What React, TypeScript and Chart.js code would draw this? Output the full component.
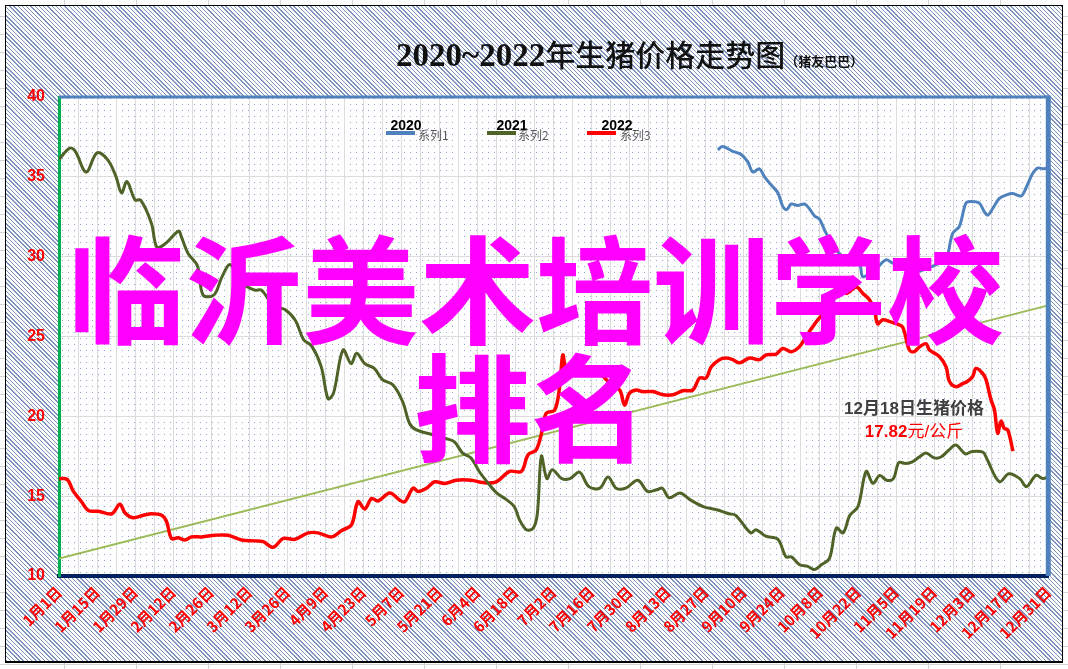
import React, { useEffect, useRef } from 'react';
import { Chart, registerables } from 'chart.js';

Chart.register(...registerables);

// ---------- data ----------
const xTickLabels = [
  '1月1日', '1月15日', '1月29日', '2月12日', '2月26日', '3月12日', '3月26日',
  '4月9日', '4月23日', '5月7日', '5月21日', '6月4日', '6月18日', '7月2日',
  '7月16日', '7月30日', '8月13日', '8月27日', '9月10日', '9月24日', '10月8日',
  '10月22日', '11月5日', '11月19日', '12月3日', '12月17日', '12月31日',
];
const labelStepDays = 14;
const gridStepDays = 7;
const yearLastDay = 364;
const yTicks = [10, 15, 20, 25, 30, 35, 40];

const seriesNames = ['系列1', '系列2', '系列3'];
const seriesYears = ['2020', '2021', '2022'];

// [day of year, price]
const price2020: [number, number][] = [
  [242.4, 36.7], [244.2, 36.9], [247.9, 36.6], [251, 36.4], [253.4, 35.95], [255.3, 35.3],
  [257.7, 35.5], [259.6, 35.0], [262, 34.5], [264.5, 34.0], [266.3, 33.15], [267.8, 32.95],
  [269.4, 33.3], [271.8, 33.2], [274.3, 33.3], [276.1, 33.0], [278, 32.55], [279.8, 32.35],
  [281.6, 31.7], [283.5, 31.05], [286, 30.4], [289, 29.9], [292, 29.5], [294.5, 29.6],
  [295.7, 28.75], [298.2, 28.95], [301, 29.3], [304.3, 29.8], [306.8, 29.6], [309.2, 29.5],
  [312, 29.3], [316, 29.1], [320, 29.3], [323.9, 29.6], [326.4, 29.8], [328.8, 31.45],
  [331.3, 31.9], [333.7, 33.35], [335.6, 33.45], [338.6, 33.35], [340.5, 32.8], [341.7, 32.6],
  [343.5, 33.0], [346, 33.65], [348.4, 33.85], [350.9, 33.95], [354, 33.8], [355.8, 34.3],
  [358.2, 35.2], [360.1, 35.55], [362.5, 35.5], [364, 35.6],
];

const price2021: [number, number][] = [
  [0, 36.1], [4, 36.8], [6, 36.6], [10, 35.3], [14, 36.5], [18, 36.05], [21, 35.0], [23, 34.0],
  [25, 34.7], [28, 33.55], [30, 33.55], [34, 32.1], [36, 30.6], [39, 30.8], [44, 31.6],
  [45, 31.25], [47.5, 30.2], [51, 29.4], [53, 27.6], [57, 27.6], [60, 28.75], [63, 29.5],
  [67, 28.4], [72, 27.9], [74.5, 27.9], [79, 26.9], [83, 26.7], [87, 26.0], [90, 24.8],
  [93, 24.4], [96.5, 23.1], [99, 21.1], [101, 21.45], [104.5, 24.15], [107.5, 23.3],
  [109.5, 23.95], [112.5, 23.3], [116, 23.0], [119, 22.3], [123, 21.95], [126.5, 20.9],
  [129, 19.55], [131.5, 19.15], [137.5, 18.85], [142.5, 18.6], [145.5, 18.4], [148.5, 17.7],
  [151.5, 17.4], [155, 16.45], [158, 15.8], [161, 15.2], [164.5, 14.8], [167.5, 14.35],
  [169.5, 13.5], [172, 12.9], [174.5, 13.0], [176, 13.9], [177.5, 17.5], [179.5, 16.1],
  [181.5, 16.65], [185, 16.1], [188, 16.1], [191.5, 16.5], [195, 15.6], [199, 15.5],
  [202, 16.2], [205, 15.5], [208.5, 15.5], [213, 16.0], [216.5, 15.3], [220, 15.4],
  [222, 15.5], [224.5, 14.9], [228.5, 15.2], [232, 14.8], [237, 14.35], [242, 14.15],
  [246.5, 13.9], [249, 13.8], [254.5, 12.7], [256.5, 12.9], [260, 12.5], [264.5, 12.3],
  [267.5, 11.2], [269.5, 11.2], [272.5, 10.7], [275.5, 10.6], [278, 10.4], [280.5, 10.7],
  [283.5, 11.1], [286, 13.0], [288.5, 12.7], [291, 13.8], [294, 14.35], [297, 16.55],
  [299.5, 15.8], [302, 16.3], [304.5, 16.0], [307, 16.1], [309, 17.1], [311.5, 17.05],
  [314, 17.15], [316.5, 17.45], [319, 17.7], [322, 17.4], [324.5, 17.45], [327.5, 17.9],
  [330, 18.2], [333.5, 17.65], [336, 17.8], [340, 17.75], [341.5, 17.3], [346, 15.9],
  [349.5, 16.4], [353.5, 16.1], [356, 15.6], [359.5, 16.3], [362, 16.1], [364, 16.2],
];

const price2022: [number, number][] = [
  [0, 16.1], [3, 16.05], [5.3, 15.3], [8.3, 14.65], [10.8, 14.1], [14.5, 14.05], [19.4, 13.9],
  [22.4, 14.5], [24.3, 13.95], [27.3, 13.65], [31, 13.8], [34.1, 13.9], [37.8, 13.8],
  [39.6, 13.4], [41.4, 12.35], [43.9, 12.4], [46.3, 12.25], [48.8, 12.45], [52.5, 12.45],
  [57.4, 12.55], [62.2, 12.55], [67.2, 12.25], [72.1, 12.2], [75.1, 12.15], [78.8, 11.8],
  [82.5, 12.35], [86.8, 12.3], [91.7, 12.7], [95.3, 12.7], [100.3, 12.45], [104, 12.85],
  [107.6, 13.2], [110, 14.65], [112.5, 14.2], [115, 14.85], [117.4, 14.7], [121.7, 15.2],
  [125.4, 14.75], [127.2, 14.65], [130.3, 15.5], [132.1, 15.3], [135.2, 15.5], [138.2, 15.9],
  [141.9, 15.8], [146.2, 16.0], [151.7, 16.0], [156, 15.85], [160.9, 15.9], [165.8, 16.55],
  [170.1, 16.55], [172.6, 17.6], [175.6, 17.9], [178.1, 19.35], [179.3, 20.2], [182.4, 20.4],
  [184.2, 21.85], [185.4, 23.85], [186.7, 22.7], [188.5, 23.3], [192, 23.0], [195, 22.8],
  [198.9, 22.7], [202, 22.2], [206.3, 21.65], [208.1, 20.7], [209.9, 21.45], [212.4, 21.65],
  [214.8, 21.55], [218.5, 21.55], [222.2, 21.35], [225.9, 21.35], [229.5, 21.6], [233.2, 21.65],
  [235.7, 22.4], [238.1, 22.4], [240, 23.1], [243, 23.55], [245.5, 23.65], [247.9, 23.55],
  [250.4, 23.35], [254.1, 23.65], [257.7, 23.55], [260.2, 23.85], [263.9, 23.9], [266.3, 24.25],
  [269.4, 24.05], [272.4, 24.35], [274.9, 25.0], [277.3, 25.6], [280.9, 26.35], [283.4, 26.45],
  [286, 28.1], [289.7, 27.7], [293.3, 28.1], [295.8, 27.7], [298.2, 27.3], [300, 26.7],
  [301.2, 25.8], [303.1, 26.05], [305.5, 25.95], [308, 25.8], [310.4, 25.6], [312.9, 24.15],
  [314.7, 24.05], [316.6, 24.35], [319, 24.55], [320.3, 24.15], [323.9, 23.75], [326.4, 23.1],
  [327.6, 22.2], [330.1, 21.85], [332.5, 22.05], [334.3, 22.2], [336.2, 22.5], [337.4, 23.0],
  [339.8, 22.7], [341.1, 22.3], [342.9, 21.05], [344.2, 20.4], [345.4, 18.95], [346.6, 19.7],
  [347.8, 19.25], [349.1, 19.15], [351, 17.82],
];

const trendLine: [number, number][] = [[0, 11.1], [364, 26.95]];

const titleMain = '2020~2022';
const titleRest = '年生猪价格走势图';
const titleNote = '（猪友巴巴）';
const noteLine1 = '12月18日生猪价格';
const notePrice = '17.82';
const noteUnit = '元/公斤';
const watermark1 = '临沂美术培训学校';
const watermark2 = '排名';

const toPts = (arr: [number, number][]) => arr.map(([x, y]) => ({ x, y }));

const colors = ['#4F81BD', '#4F6228', '#FF0000'];

export default function App() {
  const canvasRef = useRef<HTMLCanvasElement>(null);

  useEffect(() => {
    const canvas = canvasRef.current!;
    const ctx = canvas.getContext('2d')!;

    const tile = document.createElement('canvas');
    tile.width = 6;
    tile.height = 6;
    const tctx = tile.getContext('2d')!;
    tctx.fillStyle = 'rgba(70,105,175,0.6)';
    tctx.fillRect(2, 2, 1, 1);
    const dots = ctx.createPattern(tile, 'repeat');

    const plotBg = {
      id: 'plotBg',
      beforeDraw(chart: any) {
        const { ctx: c, chartArea: a } = chart;
        c.save();
        c.fillStyle = '#ffffff';
        c.fillRect(a.left, a.top, a.width, a.height);
        if (dots) {
          c.fillStyle = dots;
          c.fillRect(a.left, a.top, a.width, a.height);
        }
        c.restore();
      },
    };

    const frame = {
      id: 'frame',
      afterDraw(chart: any) {
        const { ctx: c, chartArea: a } = chart;
        c.save();
        c.strokeStyle = '#4F81BD';
        c.lineWidth = 3;
        c.beginPath();
        c.moveTo(a.left, a.top);
        c.lineTo(a.right, a.top);
        c.stroke();
        c.lineWidth = 5;
        c.beginPath();
        c.moveTo(a.right, a.top - 1.5);
        c.lineTo(a.right, a.bottom);
        c.stroke();
        c.restore();
      },
    };

    const common = { pointRadius: 0, pointHoverRadius: 0, tension: 0.35, fill: false };

    const chart = new Chart(ctx, {
      type: 'line',
      data: {
        datasets: [
          { ...common, label: seriesNames[0], data: toPts(price2020), borderColor: colors[0], borderWidth: 3 },
          { ...common, label: seriesNames[1], data: toPts(price2021), borderColor: colors[1], borderWidth: 3 },
          { ...common, label: seriesNames[2], data: toPts(price2022), borderColor: colors[2], borderWidth: 3.5 },
          { ...common, label: 'trend', data: toPts(trendLine), borderColor: '#9BBB59', borderWidth: 2, tension: 0 },
        ],
      },
      options: {
        animation: false,
        responsive: false,
        maintainAspectRatio: false,
        events: [],
        layout: { padding: { left: 0, top: 97, right: 19, bottom: 0 } },
        plugins: { legend: { display: false }, tooltip: { enabled: false }, title: { display: false } },
        scales: {
          x: {
            type: 'linear',
            min: 0,
            max: yearLastDay,
            afterFit(s: any) { s.height = 93; },
            afterBuildTicks(s: any) {
              const t = [];
              for (let d = 0; d <= yearLastDay; d += gridStepDays) t.push({ value: d });
              s.ticks = t;
            },
            ticks: {
              autoSkip: false,
              minRotation: 45,
              maxRotation: 45,
              padding: 7,
              color: '#FF0000',
              font: { family: '"Noto Sans CJK SC", sans-serif', size: 15, weight: 'bold' },
              callback: (v: any) => (v % labelStepDays === 0 ? xTickLabels[v / labelStepDays] : ''),
            },
            grid: { color: '#DCDCDC', lineWidth: 1, drawTicks: false },
            border: { color: '#002060', width: 4 },
          },
          y: {
            min: yTicks[0],
            max: yTicks[yTicks.length - 1],
            afterFit(s: any) { s.width = 59; },
            ticks: {
              stepSize: 5,
              padding: 14,
              color: '#FF0000',
              font: { family: '"Liberation Sans", Arial, sans-serif', size: 16, weight: 'bold' },
            },
            grid: { color: '#DCDCDC', lineWidth: 1, drawTicks: false },
            border: { color: '#00B050', width: 3 },
          },
        },
      },
      plugins: [plotBg, frame],
    } as any);

    return () => chart.destroy();
  }, []);

  const legendItems = [
    { sx: 386, yearCx: 406, nx: 418 },
    { sx: 487, yearCx: 512, nx: 518 },
    { sx: 587, yearCx: 617, nx: 620 },
  ];

  return (
    <div
      style={{
        position: 'fixed', left: 0, top: 0, width: 1068, height: 669, overflow: 'hidden',
        background: '#fff',
        backgroundImage:
          'linear-gradient(to right, #d4d4d4 1px, transparent 1px), linear-gradient(to bottom, #d4d4d4 1px, transparent 1px)',
        backgroundSize: '72px 100%, 100% 18px',
        backgroundPosition: '64px 0, 0 16px',
      }}
    >
      <div
        style={{
          position: 'absolute', left: 5, top: 5, width: 1056, height: 655,
          border: '1px solid #000',
          borderBottomWidth: 2,
          background: 'repeating-linear-gradient(45deg, #7d92bf 0px, #7d92bf 1px, #ffffff 1px, #ffffff 3px)',
        }}
      />
      <canvas
        ref={canvasRef}
        width={1068}
        height={669}
        style={{ position: 'absolute', left: 0, top: 0, width: 1068, height: 669 }}
      />
      {/* title */}
      <div style={{ position: 'absolute', left: 396, top: 35, whiteSpace: 'nowrap', lineHeight: '36px', color: '#111' }}>
        <span style={{ fontFamily: '"Liberation Serif", serif', fontWeight: 'bold', fontSize: 33 }}>{titleMain}</span>
        <span style={{ fontFamily: '"Noto Sans CJK SC", sans-serif', fontWeight: 500, fontSize: 30 }}>{titleRest}</span>
        <span style={{ fontFamily: '"Noto Sans CJK SC", sans-serif', fontWeight: 'bold', fontSize: 13 }}>{titleNote}</span>
      </div>
      {/* legend */}
      {legendItems.map((it, i) => (
        <React.Fragment key={i}>
          <div style={{ position: 'absolute', left: it.sx, top: 131, width: 29, height: 4, background: colors[i] }} />
          <div
            style={{
              position: 'absolute', left: it.yearCx - 30, width: 60, top: 117, textAlign: 'center',
              fontFamily: '"Liberation Sans", Arial, sans-serif', fontWeight: 'bold', fontSize: 14, lineHeight: '16px', color: '#000',
            }}
          >
            {seriesYears[i]}
          </div>
          <div
            style={{
              position: 'absolute', left: it.nx, top: 127, whiteSpace: 'nowrap',
              fontFamily: '"Noto Sans CJK SC", sans-serif', fontSize: 12, lineHeight: '16px', color: '#595959',
            }}
          >
            {seriesNames[i]}
          </div>
        </React.Fragment>
      ))}
      {/* annotation */}
      <div
        style={{
          position: 'absolute', left: 814, width: 200, top: 398, textAlign: 'center', whiteSpace: 'nowrap',
          fontFamily: '"Liberation Sans", "Noto Sans CJK SC", sans-serif', fontWeight: 'bold', fontSize: 17, lineHeight: '22px', color: '#404040',
        }}
      >
        {noteLine1}
      </div>
      <div
        style={{
          position: 'absolute', left: 814, width: 200, top: 421, textAlign: 'center', whiteSpace: 'nowrap',
          fontFamily: '"Liberation Sans", "Noto Sans CJK SC", sans-serif', fontSize: 17, lineHeight: '22px', color: '#FF0000',
        }}
      >
        <span style={{ fontWeight: 'bold' }}>{notePrice}</span>
        <span>{noteUnit}</span>
      </div>
      {/* watermark */}
      <div
        style={{
          position: 'absolute', left: 0, width: 1072, top: 226, textAlign: 'center', whiteSpace: 'nowrap',
          fontFamily: '"Noto Sans CJK SC", sans-serif', fontWeight: 700, fontSize: 117, lineHeight: '117px', color: '#FF00FF',
        }}
      >
        {watermark1}
      </div>
      <div
        style={{
          position: 'absolute', left: 0, width: 1062, top: 344, textAlign: 'center', whiteSpace: 'nowrap',
          fontFamily: '"Noto Sans CJK SC", sans-serif', fontWeight: 700, fontSize: 117, lineHeight: '117px', color: '#FF00FF',
        }}
      >
        {watermark2}
      </div>
    </div>
  );
}
